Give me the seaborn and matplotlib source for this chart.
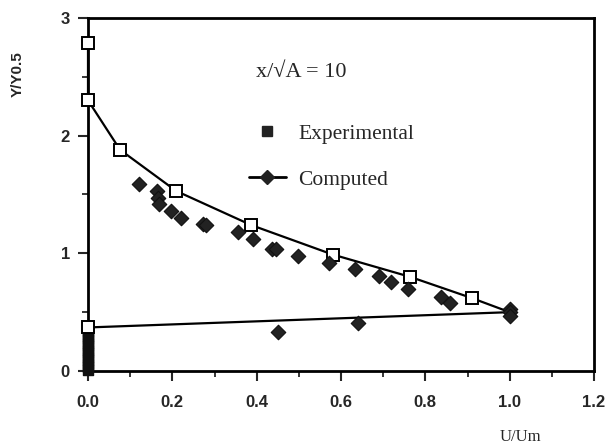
import matplotlib
matplotlib.use("Agg")
import matplotlib.pyplot as plt
from matplotlib.lines import Line2D
from matplotlib.ticker import MultipleLocator
import seaborn as sns
import pandas as pd

# Experimental profile (in line order)
exp_u = [0.0, 0.0, 0.076, 0.209, 0.387, 0.58, 0.764, 0.91, 1.0, 0.0]
exp_y = [2.79, 2.30, 1.88, 1.53, 1.24, 0.99, 0.80, 0.62, 0.50, 0.37]

# Experimental points stacked on the wall (x = 0)
wall_u = [0.0, 0.0, 0.0, 0.0, 0.0, 0.0, 0.0, 0.0, 0.0, 0.0, 0.0, 0.0]
wall_y = [0.33, 0.30, 0.27, 0.24, 0.21, 0.18, 0.15, 0.12, 0.09, 0.06, 0.03, 0.01]

# Computed points
comp_u = [0.121, 0.164, 0.167, 0.169, 0.196, 0.22, 0.272, 0.28, 0.356, 0.392,
          0.437, 0.445, 0.497, 0.572, 0.633, 0.69, 0.718, 0.759, 0.837, 0.858,
          1.0, 1.0, 1.0, 0.45, 0.64]
comp_y = [1.59, 1.53, 1.47, 1.42, 1.36, 1.30, 1.245, 1.24, 1.185, 1.12,
          1.04, 1.035, 0.98, 0.92, 0.87, 0.81, 0.76, 0.70, 0.63, 0.58,
          0.53, 0.50, 0.47, 0.33, 0.41]

x_ticks = [0.0, 0.2, 0.4, 0.6, 0.8, 1.0, 1.2]
x_tick_labels = ["0.0", "0.2", "0.4", "0.6", "0.8", "1.0", "1.2"]
y_ticks = [0, 1, 2, 3]
y_tick_labels = ["0", "1", "2", "3"]

exp_df = pd.DataFrame({"u": exp_u, "y": exp_y})
wall_df = pd.DataFrame({"u": wall_u, "y": wall_y})
comp_df = pd.DataFrame({"u": comp_u, "y": comp_y})

sns.set_style("white")
fig = plt.figure(figsize=(6.12, 4.45), dpi=100)
ax = fig.add_axes([0.1438, 0.1663, 0.9706 - 0.1438, 0.9596 - 0.1663])

sns.lineplot(data=exp_df, x="u", y="y", sort=False, estimator=None, ax=ax,
             color="black", linewidth=1.6, marker="s", markersize=8,
             markerfacecolor="white", markeredgecolor="black", markeredgewidth=1.4,
             markevery=[0, 1, 2, 3, 4, 5, 6, 7, 9],
             clip_on=False, zorder=4)
sns.scatterplot(data=wall_df, x="u", y="y", ax=ax, marker="s", s=55,
                color="#111111", edgecolor="#111111", linewidth=1.0,
                clip_on=False, zorder=3)
sns.scatterplot(data=comp_df, x="u", y="y", ax=ax, marker="D", s=55,
                color="#222222", edgecolor="#111111", linewidth=0.8,
                clip_on=False, zorder=5)

ax.set_xlim(0, 1.2)
ax.set_ylim(0, 3)
ax.set_xticks(x_ticks)
ax.set_xticklabels(x_tick_labels)
ax.set_yticks(y_ticks)
ax.set_yticklabels(y_tick_labels)
ax.xaxis.set_minor_locator(MultipleLocator(0.1))
ax.yaxis.set_minor_locator(MultipleLocator(0.5))
ax.tick_params(which="major", direction="out", length=7, width=1.5,
               bottom=True, left=True, pad=10)
ax.tick_params(which="minor", direction="out", length=4, width=1.3,
               bottom=True, left=True)
for lab in ax.get_xticklabels() + ax.get_yticklabels():
    lab.set_fontfamily("Liberation Sans")
    lab.set_fontweight("bold")
    lab.set_fontsize(12)
ax.tick_params(axis="y", pad=6)
for sp in ax.spines.values():
    sp.set_visible(True)
    sp.set_linewidth(2)
    sp.set_color("black")

ax.set_xlabel("U/Um", fontfamily="Liberation Serif", fontsize=12)
ax.xaxis.set_label_coords(0.854, -0.165)
ax.set_ylabel("Y/Y0.5", fontfamily="Liberation Sans", fontweight="bold", fontsize=11)
ax.yaxis.set_label_coords(-0.125, 0.84)

ax.text(0.421, 0.845, "x/\u221aA = 10", transform=ax.transAxes, ha="center",
        va="center", fontfamily="Liberation Serif", fontsize=16)

handles = [
    Line2D([], [], linestyle="none", marker="s", markersize=7,
           markerfacecolor="#222222", markeredgecolor="#222222"),
    Line2D([], [], color="black", linewidth=2, marker="D", markersize=7,
           markerfacecolor="#222222", markeredgecolor="#222222"),
]
ax.legend(handles, ["Experimental", "Computed"], loc="upper left",
          bbox_to_anchor=(0.28, 0.755), frameon=False,
          prop={"family": "Liberation Serif", "size": 15.5},
          labelspacing=1.2, handlelength=1.7, handletextpad=0.6)

fig.savefig("out.png", dpi=100)
